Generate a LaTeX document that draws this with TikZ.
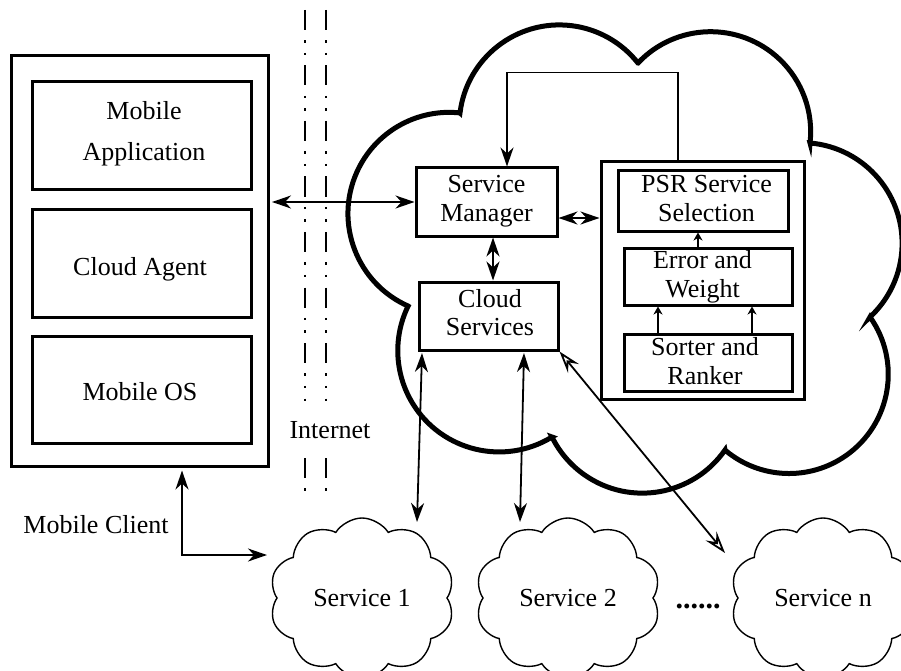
\documentclass[tikz,border=0pt]{standalone}
\usepackage{fontspec}
\setmainfont{Liberation Serif}
\usetikzlibrary{arrows.meta,shapes.symbols}
\begin{document}
\begin{tikzpicture}[x=1pt,y=1pt,
  box/.style={draw, line width=3pt, inner sep=0pt},
  lbl/.style={font=\fontsize{26}{28.5}\selectfont, align=center, inner sep=0pt},
  svc/.style={cloud, cloud puffs=10, cloud puff arc=115, cloud ignores aspect, draw,
    line width=1.4pt, minimum width=185pt, minimum height=160pt, inner sep=0pt,
    font=\fontsize{26}{28.5}\selectfont},
  net/.style={line width=2pt, dash pattern=on 20pt off 10.3pt on 2.5pt off 10pt on 2.5pt off 10.2pt},
  dblarr/.style={line width=1.8pt, {Stealth[length=19pt,width=13pt,inset=6pt]}-{Stealth[length=19pt,width=13pt,inset=6pt]}},
  onearr/.style={line width=1.8pt, -{Stealth[length=19pt,width=13pt,inset=6pt]}},
  smallarr/.style={line width=1.8pt, -{Stealth[length=8pt,width=9pt,inset=2.5pt]}},
  openarr/.style={line width=1.8pt, {Stealth[open,length=22pt,width=14pt,inset=8pt]}-{Stealth[open,length=22pt,width=14pt,inset=8pt]}}
]
\useasboundingbox (0,0) rectangle (901,-671);

% big cloud
\draw[line width=5pt]
 (460,-113) arc[start angle=173.1, end angle=38.3, radius=100.1]
 -- (638,-63) arc[start angle=136.6, end angle=-6.5, radius=100]
 -- (810,-143) arc[start angle=85.1, end angle=-47.1, radius=100.7]
 -- (870,-317) arc[start angle=35.3, end angle=-130.2, radius=99.2]
 -- (725,-450) arc[start angle=-34.9, end angle=-153.7, radius=100.8]
 -- (552,-437) arc[start angle=-58.5, end angle=-206.1, radius=101.3]
 -- (408,-306) arc[start angle=246, end angle=83.9, radius=101.2]
 -- cycle;

% internet lines
\draw[net] (305,-10) -- (305,-401);
\draw[net] (326,-10) -- (326,-401);
\draw[net] (305,-458) -- (305,-493);
\draw[net] (326,-458) -- (326,-493);
\node[lbl] (inet) at (330,-430.4) {Internet};

% mobile client
\node[box, minimum width=257pt, minimum height=410pt] (mob) at (139.5,-261) {};
\node[box, minimum width=219pt, minimum height=107pt] (app) at (141.5,-135.5) {};
\node[box, minimum width=219pt, minimum height=108pt] (agent) at (141.5,-263) {};
\node[box, minimum width=219pt, minimum height=107pt] (os) at (141.5,-389.5) {};
\node[lbl] (appT) at (144,-133.4) {Mobile\\[12.5pt]Application};
\node[lbl] (agentT) at (140,-268.9) {Cloud Agent};
\node[lbl] (osT) at (140,-391.2) {Mobile OS};
\node[lbl] (mcT) at (96,-525.1) {Mobile Client};

% cloud internals
\node[box, minimum width=141pt, minimum height=68pt] (sm) at (486.5,-202) {};
\node[lbl] (smT) at (486.5,-201.4) {Service\\Manager};
\node[box, minimum width=139pt, minimum height=68pt] (cs) at (488.5,-316) {};
\node[lbl] (csT) at (490,-312.6) {Cloud\\Services};
\node[box, minimum width=203pt, minimum height=237pt] (psr) at (702.5,-280.5) {};
\node[box, minimum width=170pt, minimum height=60pt] (sel) at (703,-201) {};
\node[lbl] (selT) at (706.5,-198.6) {PSR Service\\Selection};
\node[box, minimum width=168pt, minimum height=57pt] (err) at (708,-276.5) {};
\node[lbl] (errT) at (702.5,-276.9) {Error and\\Weight};
\node[box, minimum width=168pt, minimum height=57pt] (sort) at (708,-362.5) {};
\node[lbl] (sortT) at (705,-361.1) {Sorter and\\Ranker};

% services
\node[svc] (s1) at (362,-598) {Service 1};
\node[svc] (s2) at (568,-598) {Service 2};
\node[svc] (sn) at (823,-598) {Service n};
\node[font=\fontsize{30}{30}\selectfont\bfseries, inner sep=0pt] (dots) at (698,-606) {......};

% free ends
\coordinate (t1) at (417,-522);
\coordinate (t2) at (520,-522);
\coordinate (tn) at (725,-553);
\coordinate (tm) at (267,-555);

% connectors
\draw[dblarr] (sm.west) -- ([xshift=2.5pt]sm.west -| mob.east);
\draw[dblarr] ([yshift=-16pt]sm.east) -- ([yshift=-16pt]sm.east -| psr.west);
\draw[onearr] ([xshift=-24.5pt]psr.north) -- ++(0,88) -| ([xshift=20.5pt]sm.north);
\draw[dblarr, line width=2.6pt] ([xshift=6.5pt]sm.south) -- ([xshift=6.5pt]sm.south |- cs.north);
\draw[smallarr] ([xshift=-10pt]err.north) -- ([xshift=-10pt]err.north |- sel.south);
\draw[smallarr] ([xshift=-50pt]sort.north) -- ([xshift=-50pt]sort.north |- err.south);
\draw[smallarr] ([xshift=44pt]sort.north) -- ([xshift=44pt]sort.north |- err.south);
\draw[dblarr] ([xshift=-66.5pt,yshift=-1.5pt]cs.south) -- (t1);
\draw[dblarr] ([xshift=35.5pt,yshift=-1.5pt]cs.south) -- (t2);
\draw[openarr] (cs.south east) -- (tn);
\draw[dblarr] ([xshift=42.5pt,yshift=-3pt]mob.south) |- (tm);
\end{tikzpicture}
\end{document}
